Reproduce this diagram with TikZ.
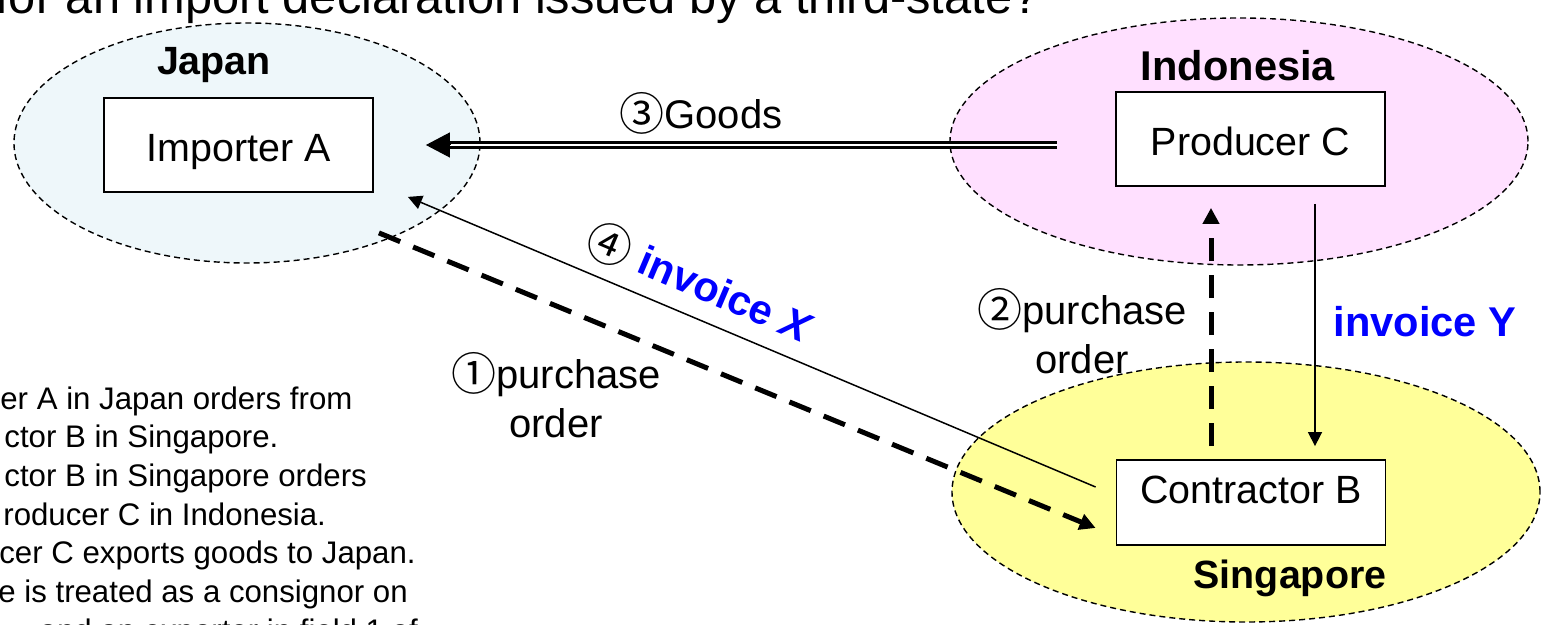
\documentclass[tikz,border=0pt]{standalone}
\usepackage{fontspec}
\setmainfont{Liberation Sans}
\newfontfamily\symfont{Noto Sans CJK JP}
\usetikzlibrary{arrows.meta,shapes.geometric}

\definecolor{japanfill}{HTML}{EEF7FA}
\definecolor{indofill}{HTML}{FFE0FF}
\definecolor{singfill}{HTML}{FFFF99}
\definecolor{invblue}{HTML}{0000FF}

% circled step number in a thin outline style
\newcommand{\stepno}[1]{{\fontsize{22.5}{24}\symfont\mdseries\raisebox{-1pt}{#1}}}

\begin{document}
\begin{tikzpicture}[x=0.5pt,y=-0.5pt,
  region/.style={ellipse, draw, dash pattern=on 3pt off 2pt, line width=0.7pt, inner sep=0pt},
  party/.style={draw, line width=0.9pt, fill=white, minimum width=134.5pt, minimum height=47pt, inner sep=0pt},
  boxtext/.style={font=\fontsize{19.7}{23}\selectfont, text height=17pt, text depth=0pt},
  country/.style={font=\fontsize{19.7}{23}\selectfont\bfseries, inner sep=0pt},
  lbl/.style={font=\fontsize{20}{24.5}\selectfont, align=center, inner sep=0pt},
  bluelbl/.style={font=\fontsize{20.8}{24}\selectfont\bfseries, text=invblue, inner sep=0pt},
  note/.style={font=\fontsize{15.6}{18}\selectfont, anchor=base west, inner sep=0pt},
  order/.style={line width=2.5pt, dash pattern=on 11.5pt off 7pt, -{Triangle[length=8pt,width=8pt]}},
  invoice/.style={line width=0.75pt, -{Triangle[length=7pt,width=7pt]}},
  goods/.style={double, line width=1.5pt, double distance=1pt},
]
\useasboundingbox (0,0) rectangle (1542,625);
\clip (0,0) rectangle (1542,625);

% heading line
\node[anchor=base west, inner sep=0pt, font=\fontsize{24.4}{28}\selectfont] (title) at (-5,13.5)
  {for an import declaration issued by a third-state?};

% country regions
\node[region, fill=japanfill, minimum width=233pt, minimum height=120pt] (jp) at (247,143) {};
\node[region, fill=indofill, minimum width=289pt, minimum height=123.5pt] (id) at (1239,141.5) {};
\node[region, fill=singfill, minimum width=294pt, minimum height=130pt] (sg) at (1246,492) {};

\node[country] (jplbl) at (214,65) {Japan};
\node[country, font=\fontsize{20.8}{23}\selectfont\bfseries] (idlbl) at (1238,66) {Indonesia};
\node[country] (sglbl) at (1290,578) {Singapore};

% parties
\node[party, boxtext] (ia) at (238.5,145) {Importer A};
\node[party, boxtext] (pc) at (1250.5,139) {Producer C};
\node[party, minimum height=42.5pt] (cb) at (1251,502.5) {};
\node[boxtext, inner sep=0pt] (cbt) at (1251,486) {Contractor B};

% (3) goods: double line from Producer C to Importer A
\coordinate (g1) at ([xshift=-29pt]pc.west);
\coordinate (g2) at ([xshift=26pt]ia.east);
\draw[goods] (g1 |- g2) -- ([xshift=10pt]g2);
\draw[line width=0.5pt, -{Triangle[length=12pt,width=12.5pt]}] ([xshift=12pt]g2) -- (g2);
\node[lbl] (goodslbl) at (701,113) {\stepno{③}Goods};

% (1) purchase order: Importer A to Contractor B
\draw[order] ([shift={(2.5pt,-20pt)}]ia.south east) -- ([shift={(-10pt,-12.75pt)}]cb.west);
\node[lbl] (po1) at (556,395) {\stepno{①}purchase\\order};

% (4) invoice X: Contractor B to Importer A
\draw[invoice] ([shift={(-10pt,7.75pt)}]cb.west) -- ([shift={(17pt,-2pt)}]ia.south east);
\node[bluelbl, rotate=-23] (invx) at (700,283)
  {{\color{black}\stepno{④}} invoice \textit{X}};

% (2) purchase order: Contractor B to Producer C
\draw[order] ([shift={(-20pt,6.5pt)}]cb.north) -- ([shift={(-19.75pt,-10.5pt)}]pc.south);
\node[lbl] (po2) at (1082,331) {\stepno{②}purchase\\order};

% invoice Y: Producer C to Contractor B
\draw[invoice] ([shift={(32.25pt,-8.5pt)}]pc.south) -- ([shift={(32pt,6.5pt)}]cb.north);
\node[bluelbl] (invy) at (1425,322) {invoice Y};

% explanatory notes
\node[note] (n1) at (0,410) {er A in Japan orders from};
\node[note] (n2) at (4,448) {ctor B in Singapore.};
\node[note] (n3) at (4,487) {ctor B in Singapore orders};
\node[note] (n4) at (3,525) {roducer C in Indonesia.};
\node[note] (n5) at (-1,563) {cer C exports goods to Japan.};
\node[note] (n6) at (-2,602) {e is treated as a consignor on};
\node[note] (n7) at (22,641) {, and an exporter in field 1 of};
\end{tikzpicture}
\end{document}
